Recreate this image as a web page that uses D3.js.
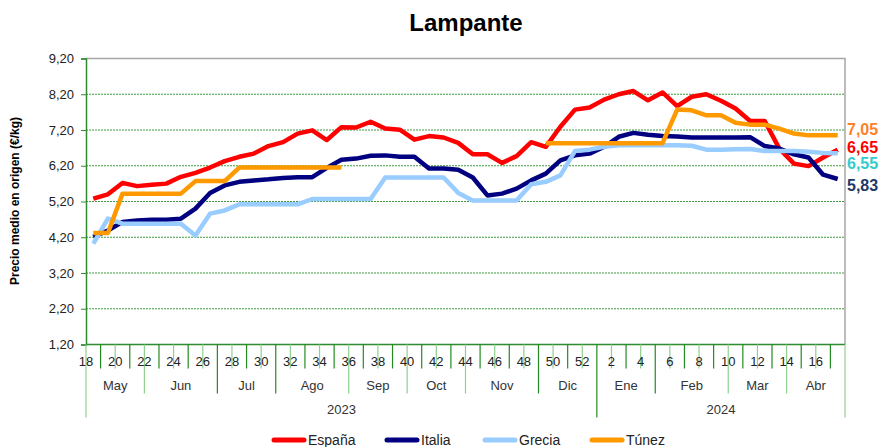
<html>
<head>
<meta charset="utf-8">
<script src="https://d3js.org/d3.v7.min.js"></script>
<style>
  body { margin: 0; background: #fff; }
  text { font-family: "Liberation Sans", Arial, sans-serif; }
</style>
</head>
<body>
<svg width="883" height="447"></svg>
<script>
    // weeks shown on the category axis (2023: 18..52, 2024: 1..17)
    const weeks = [18,19,20,21,22,23,24,25,26,27,28,29,30,31,32,33,34,35,36,37,38,39,40,41,42,43,44,45,46,47,48,49,50,51,52,
                   1,2,3,4,5,6,7,8,9,10,11,12,13,14,15,16,17];
    const monthNames = ["May","Jun","Jul","Ago","Sep","Oct","Nov","Dic","Ene","Feb","Mar","Abr"];
    const monthWeeks = [4,5,4,5,4,4,5,4,4,5,4,4];
    const yearNames = ["2023", "2024"];
    const yearWeeks = [35, 17];
    const yTicks = [1.2,2.2,3.2,4.2,5.2,6.2,7.2,8.2,9.2];

    const espana = [5.28,5.40,5.72,5.63,5.67,5.70,5.89,6.00,6.15,6.33,6.45,6.54,6.75,6.86,7.10,7.19,6.92,7.28,7.27,7.43,
                    7.24,7.21,6.93,7.03,6.99,6.84,6.52,6.52,6.28,6.47,6.86,6.73,7.29,7.77,7.83,8.05,8.20,8.29,8.03,8.25,
                    7.87,8.13,8.20,8.02,7.80,7.45,7.45,6.68,6.26,6.19,6.43,6.65];
    const italia = [4.21,4.39,4.63,4.67,4.69,4.69,4.72,5.00,5.44,5.65,5.75,5.79,5.82,5.86,5.88,5.88,6.14,6.37,6.40,6.48,
                    6.49,6.45,6.45,6.12,6.12,6.09,5.87,5.37,5.42,5.56,5.79,5.98,6.35,6.49,6.54,6.73,7.01,7.12,7.07,7.03,
                    7.02,6.99,6.99,6.99,6.99,7.00,6.75,6.68,6.52,6.43,5.95,5.83];
    const grecia = [4.02,4.72,4.58,4.58,4.58,4.58,4.58,4.25,4.86,4.95,5.12,5.12,5.12,5.12,5.12,5.27,5.27,5.27,5.27,5.27,
                    5.87,5.87,5.87,5.87,5.87,5.44,5.23,5.23,5.23,5.23,5.68,5.75,5.93,6.61,6.65,6.73,6.77,6.77,6.77,6.77,
                    6.77,6.76,6.65,6.65,6.66,6.67,6.61,6.61,6.61,6.59,6.56,6.55];
    const tunez  = [4.32,4.32,5.42,5.42,5.42,5.42,5.42,5.77,5.77,5.77,6.15,6.15,6.15,6.15,6.15,6.15,6.15,6.15,null,null,
                    null,null,null,null,null,null,null,null,null,null,null,6.83,6.83,6.83,6.83,6.83,6.83,6.83,6.83,6.83,
                    7.77,7.75,7.61,7.61,7.40,7.35,7.35,7.24,7.10,7.05,7.05,7.05];

    const series = [
        { name: "España", values: espana, color: "#ff0000", label: "#ff0000" },
        { name: "Italia", values: italia, color: "#000080", label: "#1f3864" },
        { name: "Grecia", values: grecia, color: "#99ccff", label: "#33cccc" },
        { name: "Túnez",  values: tunez,  color: "#ff9900", label: "#ff7f27" }
    ];

    const svg = d3.select("svg");
    const pLeft = 86, pRight = 845, pTop = 58.5, pBottom = 344.5;

    const keys = weeks.map((w, i) => i);
    const x = d3.scaleBand().domain(keys).range([pLeft, pRight]).padding(0);
    const y = d3.scaleLinear().domain([1.2, 9.2]).range([pBottom, pTop]);
    const fmt = d3.formatLocale({ decimal: ",", thousands: ".", grouping: [3], currency: ["", "€"] }).format(".2f");

    // title
    svg.append("text").attr("x", 466).attr("y", 31).attr("text-anchor", "middle")
        .style("font-size", "24px").style("font-weight", "bold").text("Lampante");

    // grid
    svg.append("g").selectAll("line")
        .data(yTicks.filter(v => v > 1.3 && v < 9))
        .join("line")
        .attr("x1", pLeft).attr("x2", pRight)
        .attr("y1", d => y(d)).attr("y2", d => y(d))
        .attr("stroke", "#3f9a3f").attr("stroke-width", 1).attr("stroke-dasharray", "2,1");

    // plot border top/right
    svg.append("path")
        .attr("d", `M${pLeft},${pTop}H${pRight}V${pBottom}`)
        .attr("fill", "none").attr("stroke", "#a6a6a6").attr("stroke-width", 1.5);

    // y axis
    const yAxis = svg.append("g").attr("transform", `translate(${pLeft},0)`)
        .call(d3.axisLeft(y).tickValues(yTicks).tickFormat(fmt).tickSize(5).tickPadding(7));
    yAxis.select(".domain").attr("stroke", "#2e8b2e").attr("stroke-width", 1.5);
    yAxis.selectAll(".tick line").attr("stroke", "#2e8b2e");
    yAxis.selectAll(".tick text").style("font-size", "13px").attr("fill", "#222")
        .style("font-family", "'Liberation Sans', Arial, sans-serif");

    svg.append("text")
        .attr("transform", "translate(19,201) rotate(-90)")
        .attr("text-anchor", "middle")
        .style("font-size", "12px").style("font-weight", "bold")
        .text("Precio medio en origen (€/kg)");

    // x axis: category boundaries
    const g = svg.append("g");
    g.append("line").attr("x1", pLeft).attr("x2", pRight).attr("y1", pBottom).attr("y2", pBottom)
        .attr("stroke", "#2e8b2e").attr("stroke-width", 1.5);

    const monthStarts = d3.cumsum([0].concat(monthWeeks));
    const yearStarts = d3.cumsum([0].concat(yearWeeks));
    const edge = i => i < keys.length ? x(i) : x(keys.length - 1) + x.bandwidth();

    d3.range(keys.length + 1).forEach(i => {
        let len = 24;
        if (monthStarts.includes(i)) len = 49;
        if (yearStarts.includes(i)) len = 73;
        const even = i < keys.length ? weeks[i] % 2 === 0 : true;
        g.append("line")
            .attr("x1", edge(i)).attr("x2", edge(i))
            .attr("y1", pBottom).attr("y2", pBottom + len)
            .attr("stroke", even ? "#8fd08f" : "#228b22").attr("stroke-width", 1.2);
    });

    // week labels (every other week, at left edge of its category)
    g.selectAll("text.week")
        .data(keys.filter(i => weeks[i] % 2 === 0))
        .join("text")
        .attr("x", i => x(i)).attr("y", pBottom + 21)
        .attr("text-anchor", "middle")
        .style("font-size", "13px").attr("fill", "#222")
        .text(i => weeks[i]);

    g.selectAll("text.month")
        .data(monthNames)
        .join("text")
        .attr("x", (d, j) => (edge(monthStarts[j]) + edge(monthStarts[j + 1])) / 2)
        .attr("y", pBottom + 45)
        .attr("text-anchor", "middle")
        .style("font-size", "13px").attr("fill", "#333")
        .text(d => d);

    g.selectAll("text.year")
        .data(yearNames)
        .join("text")
        .attr("x", (d, j) => (edge(yearStarts[j]) + edge(yearStarts[j + 1])) / 2)
        .attr("y", pBottom + 69)
        .attr("text-anchor", "middle")
        .style("font-size", "13px").attr("fill", "#333")
        .text(d => d);

    // lines
    const line = d3.line()
        .defined(d => d != null)
        .x((d, i) => x(i) + x.bandwidth() / 2)
        .y(d => y(d));

    svg.append("g").selectAll("path")
        .data(series)
        .join("path")
        .attr("d", d => line(d.values))
        .attr("fill", "none")
        .attr("stroke", d => d.color)
        .attr("stroke-width", 4.5)
        .attr("stroke-linejoin", "round");

    // end labels
    const endLabelY = { "Túnez": 129, "España": 147, "Grecia": 163, "Italia": 185 };
    svg.append("g").selectAll("text")
        .data(series)
        .join("text")
        .attr("x", 847).attr("y", d => endLabelY[d.name] + 6)
        .style("font-size", "16px").style("font-weight", "bold")
        .attr("fill", d => d.label)
        .text(d => fmt(d.values[d.values.length - 1]));

    // legend
    const legendX = [272, 385, 483, 590];
    const lg = svg.append("g").selectAll("g")
        .data(series)
        .join("g")
        .attr("transform", (d, i) => `translate(${legendX[i]},440)`);
    lg.append("line").attr("x1", 2).attr("x2", 32).attr("y1", 0).attr("y2", 0)
        .attr("stroke", d => d.color).attr("stroke-width", 5).attr("stroke-linecap", "round");
    lg.append("text").attr("x", 36).attr("y", 5)
        .style("font-size", "14px").attr("fill", "#222")
        .text(d => d.name);
</script>
</body>
</html>
